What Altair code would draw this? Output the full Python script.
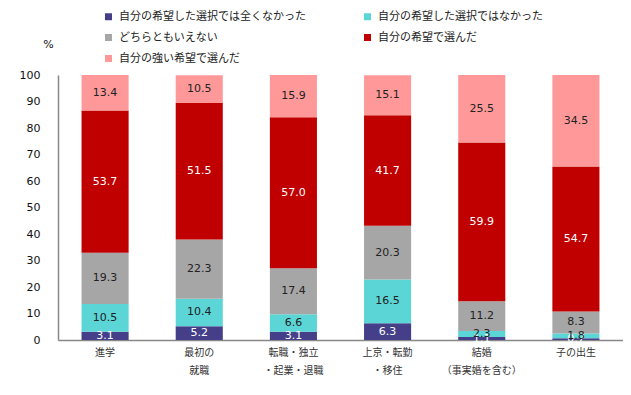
import altair as alt
import pandas as pd

categories = ["進学", "最初の|就職", "転職・独立|・起業・退職", "上京・転勤|・移住", "結婚|（事実婚を含む）", "子の出生"]
series = ["自分の希望した選択では全くなかった", "自分の希望した選択ではなかった", "どちらともいえない",
          "自分の希望で選んだ", "自分の強い希望で選んだ"]
colors = ["#453F8A", "#5BD5D5", "#A6A6A6", "#C00000", "#FF9999"]
label_colors = ["white", "#222222", "#222222", "white", "#222222"]
legend_order = [0, 2, 4, 1, 3]
y_ticks = [0, 10, 20, 30, 40, 50, 60, 70, 80, 90, 100]

v_none = [3.1, 5.2, 3.1, 6.3, 1.1, 0.7]
v_not = [10.5, 10.4, 6.6, 16.5, 2.3, 1.8]
v_neutral = [19.3, 22.3, 17.4, 20.3, 11.2, 8.3]
v_wish = [53.7, 51.5, 57.0, 41.7, 59.9, 54.7]
v_strong = [13.4, 10.5, 15.9, 15.1, 25.5, 34.5]

values = [v_none, v_not, v_neutral, v_wish, v_strong]
rows = []
for si, (s, vals) in enumerate(zip(series, values)):
    for c, v in zip(categories, vals):
        rows.append({"cat": c, "series": s, "idx": si, "value": v, "lab": f"{v:.1f}",
                     "tc": label_colors[si]})
df = pd.DataFrame(rows)

dom = [series[i] for i in legend_order]
rng = [colors[i] for i in legend_order]

base = alt.Chart(df).transform_stack(
    stack="value", groupby=["cat"], as_=["y0", "y1"], sort=[{"field": "idx", "order": "ascending"}]
).transform_calculate(mid="(datum.y0 + datum.y1) / 2")

xaxis = alt.Axis(labelAngle=0, labelExpr="split(datum.label, '|')", labelFont="Noto Sans CJK JP",
                 labelFontSize=10, labelColor="#333333", labelLineHeight=18, labelPadding=7,
                 ticks=False, domainColor="#888888", domainWidth=1.5)
xscale = alt.Scale(paddingInner=0.5, paddingOuter=0.25)

yaxis = alt.Axis(values=y_ticks, labelOverlap=False, ticks=False, grid=False,
                 domainColor="#888888",
                 domainWidth=1.5, labelFont="DejaVu Sans", labelFontSize=11, labelColor="#111111",
                 labelPadding=18, titleAngle=0, titleX=-10, titleY=-31, titleAlign="center",
                 titleBaseline="middle", titleFont="DejaVu Sans", titleFontSize=11,
                 titleFontWeight="normal", titleColor="#111111")
yscale = alt.Scale(domain=[0, 100])

bars = base.mark_bar().encode(
    x=alt.X("cat:N", sort=categories, title=None, scale=xscale, axis=xaxis),
    y=alt.Y("y0:Q", scale=yscale, title="%", axis=yaxis),
    y2="y1:Q",
    color=alt.Color("series:N", scale=alt.Scale(domain=dom, range=rng), title=None,
                    legend=alt.Legend(orient="none", legendX=45, legendY=-64, columns=2, columnPadding=56,
                                      rowPadding=9, symbolType="square", symbolSize=49, symbolStrokeWidth=0,
                                      labelFont="Noto Sans CJK JP", labelFontSize=11, labelColor="#222222",
                                      labelOffset=5, labelLimit=400)),
)

texts = base.mark_text(font="DejaVu Sans", fontSize=11, baseline="middle").encode(
    x=alt.X("cat:N", sort=categories, title=None, scale=xscale, axis=xaxis),
    y=alt.Y("mid:Q", scale=yscale, title="%", axis=yaxis),
    text="lab:N",
    color=alt.Color("tc:N", scale=None),
)

chart = (bars + texts).properties(
    width=565, height=265,
    autosize=alt.AutoSizeParams(type="none"),
    padding={"left": 50, "top": 67, "right": 0, "bottom": 40},
).configure_view(stroke=None)

chart.save("out.html", embed_options={"renderer": "svg", "actions": False})
